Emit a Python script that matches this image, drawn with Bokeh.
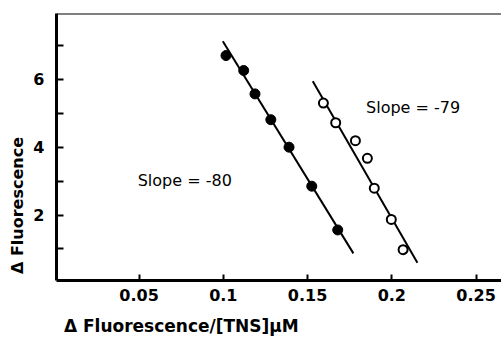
from bokeh.plotting import figure
from bokeh.models import Range1d, FixedTicker, Label, Span
from bokeh.embed import file_html
from bokeh.resources import INLINE

# Data
filled_x = [0.1016, 0.1121, 0.1188, 0.1282, 0.1390, 0.1525, 0.1679]
filled_y = [6.70, 6.26, 5.57, 4.81, 4.00, 2.85, 1.56]
open_x = [0.1594, 0.1667, 0.1784, 0.1855, 0.1896, 0.1997, 0.2067]
open_y = [5.30, 4.72, 4.19, 3.67, 2.79, 1.87, 0.98]
fit_filled_x = [0.0997, 0.1772]
fit_filled_y = [7.12, 0.87]
fit_open_x = [0.1531, 0.2152]
fit_open_y = [5.94, 0.59]
x_ticks = [0.05, 0.1, 0.15, 0.2, 0.25]
x_tick_labels = {0.05: "0.05", 0.1: "0.1", 0.15: "0.15", 0.2: "0.2", 0.25: "0.25"}
y_ticks = [2, 4, 6]
y_minor_ticks = [1, 3, 5, 7]
slope_filled_text = "Slope = -80"
slope_open_text = "Slope = -79"
x_label = "\u0394 Fluorescence/[TNS]\u03bcM"
y_label = "\u0394 Fluorescence"

FONT = "DejaVu Sans"
Y_END = 7.94
NBSP = "\u00a0"

p = figure(width=501, height=339, output_backend="svg", toolbar_location=None,
           x_range=Range1d(0.001, 0.2651), y_range=Range1d(0.07, Y_END),
           min_border_left=56, min_border_right=0, min_border_top=13, min_border_bottom=59)
p.outline_line_color = None
p.grid.visible = False
p.background_fill_color = "white"
p.border_fill_color = "white"

# axes
xa = p.xaxis[0]
xa.ticker = FixedTicker(ticks=x_ticks)
xa.major_label_overrides = x_tick_labels
xa.axis_line_width = 3
xa.major_tick_in = 6
xa.major_tick_out = 0
xa.major_tick_line_width = 2
xa.minor_tick_line_color = None
xa.major_label_standoff = 8
xa.major_label_text_font = FONT
xa.major_label_text_font_size = "16px"
xa.major_label_text_font_style = "bold"
xa.major_label_text_color = "black"
xa.axis_label = x_label + NBSP * 33   # padding shifts the label towards the left, as in the reference
xa.axis_label_standoff = 12
xa.axis_label_text_font = FONT
xa.axis_label_text_font_size = "17px"
xa.axis_label_text_font_style = "bold"
xa.axis_label_text_color = "black"

ya = p.yaxis[0]
ya.ticker = FixedTicker(ticks=y_ticks, minor_ticks=y_minor_ticks)
ya.axis_line_width = 3
ya.major_tick_in = 7
ya.major_tick_out = 0
ya.minor_tick_in = 7
ya.minor_tick_out = 0
ya.major_tick_line_width = 2
ya.minor_tick_line_width = 2
ya.minor_tick_line_color = "black"
ya.major_label_standoff = 12
ya.major_label_text_font = FONT
ya.major_label_text_font_size = "16px"
ya.major_label_text_font_style = "bold"
ya.major_label_text_color = "black"
ya.axis_label = y_label + NBSP * 21   # padding shifts the label downward, as in the reference
ya.axis_label_standoff = 3
ya.axis_label_text_font = FONT
ya.axis_label_text_font_size = "16px"
ya.axis_label_text_font_style = "bold"
ya.axis_label_text_color = "black"

p.add_layout(Span(location=Y_END, dimension="width", line_color="black", line_width=2))

# fit lines
p.line(fit_filled_x, fit_filled_y, line_color="black", line_width=2)
p.line(fit_open_x, fit_open_y, line_color="black", line_width=2)

# points
p.scatter(filled_x, filled_y, size=10, marker="circle", fill_color="black", line_color="black")
p.scatter(open_x, open_y, size=9, marker="circle", fill_color="white", line_color="black", line_width=2)

# annotations
p.add_layout(Label(x=0.0492, y=3.01, text=slope_filled_text, text_font=FONT, text_font_size="16px",
                   text_baseline="middle", text_align="left", text_color="black"))
p.add_layout(Label(x=0.1847, y=5.18, text=slope_open_text, text_font=FONT, text_font_size="16px",
                   text_baseline="middle", text_align="left", text_color="black"))

open("out.html", "w").write(file_html(p, INLINE))
